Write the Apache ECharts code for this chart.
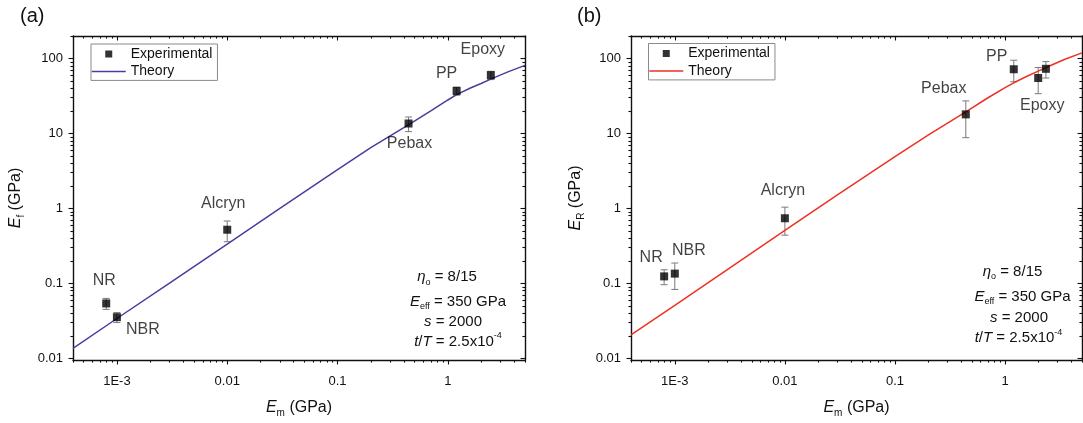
<!DOCTYPE html>
<html>
<head>
<meta charset="utf-8">
<script src="https://cdn.jsdelivr.net/npm/echarts@6.0.0/dist/echarts.min.js"></script>
<style>
  html, body { margin: 0; padding: 0; background: #fff; }
  #chart { width: 1083px; height: 423px; }
</style>
</head>
<body>
<div id="chart"></div>
<script>
// ---- Panel (a): E_f versus matrix modulus E_m ----
const materialsA = ['NR', 'NBR', 'Alcryn', 'Pebax', 'PP', 'Epoxy'];
const emA        = [8e-4, 1e-3, 0.01, 0.44, 1.2, 2.45];
const efA        = [0.054, 0.0354, 0.52, 13.6, 37, 60];
const efErrA     = [0.009, 0.0054, 0.16, 3.0, 4.6, 7.6];
const theoryEmA  = [4e-4, 1e-3, 3e-3, 0.01, 0.03, 0.1, 0.2, 0.45, 0.7, 1, 1.2, 1.6, 2, 2.5, 3.5, 5];
const theoryEfA  = [0.0136, 0.034, 0.101, 0.335, 1.0, 3.3, 6.5, 13.3, 20, 28, 33, 40.5, 46.5, 54, 66.5, 81];

// ---- Panel (b): E_R versus matrix modulus E_m ----
const materialsB = ['NR', 'NBR', 'Alcryn', 'Pebax', 'PP', 'Epoxy', 'Epoxy'];
const emB        = [8e-4, 1e-3, 0.01, 0.44, 1.2, 2.0, 2.35];
const erB        = [0.124, 0.135, 0.74, 18, 72, 55, 73];
const erErrB     = [0.028, 0.052, 0.30, 9.2, 23, 21, 18];
const theoryEmB  = [4e-4, 1e-3, 3e-3, 0.01, 0.03, 0.1, 0.2, 0.44, 0.7, 1, 1.2, 1.6, 2, 2.5, 3.5, 5];
const theoryErB  = [0.0205, 0.051, 0.153, 0.51, 1.52, 4.9, 9.5, 19.5, 30, 41, 47.5, 58.5, 68, 79, 98, 119];

// ---- Axis ticks ----
const xTickValues = [1e-3, 1e-2, 1e-1, 1];
const xTickLabels = ['1E-3', '0.01', '0.1', '1'];
const yTickValues = [0.01, 0.1, 1, 10, 100];
const yTickLabels = ['0.01', '0.1', '1', '10', '100'];

// ---- Styling ----
const FONT = "'Liberation Sans', Arial, sans-serif";
const FRAME = '#111';
const TEXT = '#111';
const ERR = '#7a7a7a';
const X_MIN = 4e-4, X_MAX = 5;
const Y_MIN = 0.0095, Y_MAX = 200;
const SQUARE = 'path://M0,0L10,0L10,10L0,10Z';

// where each material name sits relative to its marker
const labelOffsetA = { NR: [-2, -23], NBR: [26, 12], Alcryn: [-4, -26], Pebax: [1, 20], PP: [-10, -17], Epoxy: [-8, -26] };
const labelOffsetB = { NR: [-13, -19], NBR: [14, -23], Alcryn: [-2, -28], Pebax: [-22, -26], PP: [-17, -13], Epoxy: [4, 28] };

const panels = [
  { grid: { left: 73, top: 36, width: 452, height: 327.5 },
    lineColor: '#4b3c9e', yName: 'f', yNameGap: 47,
    names: materialsA, xs: emA, ys: efA, errs: efErrA, tx: theoryEmA, ty: theoryEfA,
    offsets: labelOffsetA, legendPos: { left: 91, top: 44 }, tag: '(a)', tagX: 20,
    notes: { xs: [447, 458, 453, 458], ys: [277, 301.5, 321.5, 341.5] } },
  { grid: { left: 631, top: 36, width: 451, height: 327.5 },
    lineColor: '#ee3124', yName: 'R', yNameGap: 45,
    names: materialsB, xs: emB, ys: erB, errs: erErrB, tx: theoryEmB, ty: theoryErB,
    offsets: labelOffsetB, legendPos: { left: 648.5, top: 43.5 }, tag: '(b)', tagX: 577,
    notes: { xs: [1012.5, 1022.5, 1019, 1018.5], ys: [271.5, 296.5, 317.5, 338] } }
];

function minorTicks(lo, hi) {
  const out = [];
  for (let k = -5; k <= 3; k++) {
    for (let m = 2; m <= 9; m++) {
      const v = m * Math.pow(10, k);
      if (v >= lo * 0.9999 && v <= hi * 1.0001) out.push(v);
    }
  }
  return out;
}
const xMinor = minorTicks(X_MIN, X_MAX);
const yMinor = minorTicks(Y_MIN, Y_MAX);

function lookup(values, labels, v) {
  const lv = Math.log10(v);
  const i = values.findIndex(t => Math.abs(Math.log10(t) - lv) < 1e-6);
  return i >= 0 ? labels[i] : '';
}

const subRich = {
  it: { fontStyle: 'italic', fontSize: 16, fontFamily: FONT, color: TEXT, lineHeight: 20 },
  sub: { fontSize: 10, fontFamily: FONT, color: TEXT, verticalAlign: 'bottom', lineHeight: 10 }
};

function makeAxes(dim, g, p) {
  const isX = dim === 'x';
  const lo = isX ? X_MIN : Y_MIN, hi = isX ? X_MAX : Y_MAX;
  const major = isX ? xTickValues : yTickValues;
  const minor = isX ? xMinor : yMinor;
  const mainPos = isX ? 'bottom' : 'left';
  const mirrorPos = isX ? 'top' : 'right';
  const base = {
    type: 'log', logBase: 10, gridIndex: g, min: lo, max: hi, silent: true,
    splitLine: { show: false }, axisLabel: { show: false },
    axisLine: { show: false }, axisTick: { show: false }
  };
  const line = { show: true, lineStyle: { color: FRAME, width: 1.4 } };
  const tick = (inside, len, vals) => ({ show: true, inside, length: len, customValues: vals,
                                         lineStyle: { color: FRAME, width: 1.1 } });
  const main = Object.assign({}, base, {
    position: mainPos,
    axisLine: line,
    axisTick: tick(false, 4.5, major),
    axisLabel: {
      show: true, customValues: major, fontSize: 13, color: TEXT, fontFamily: FONT,
      margin: isX ? 15 : 10,
      formatter: v => isX ? lookup(xTickValues, xTickLabels, v) : lookup(yTickValues, yTickLabels, v)
    },
    name: isX ? '{it|E}{sub|m} (GPa)' : '{it|E}{sub|' + p.yName + '} (GPa)',
    nameLocation: 'middle',
    nameGap: isX ? 38 : p.yNameGap,
    nameTextStyle: { fontSize: 16, fontFamily: FONT, color: TEXT, lineHeight: 20, rich: subRich }
  });
  return [
    main,
    Object.assign({}, base, { position: mainPos, axisTick: tick(false, 2.6, minor) }),
    Object.assign({}, base, { position: mirrorPos, axisLine: line, axisTick: tick(true, 4.5, major) }),
    Object.assign({}, base, { position: mirrorPos, axisTick: tick(true, 2.6, minor) })
  ];
}

const option = {
  animation: false,
  backgroundColor: '#fff',
  grid: [], xAxis: [], yAxis: [], series: [], legend: [], graphic: []
};

const noteStyle = { fontSize: 15, fontFamily: FONT, fill: TEXT, align: 'center', verticalAlign: 'middle', lineHeight: 20 };
const noteRich = {
  it: { fontStyle: 'italic', fontSize: 15, fontFamily: FONT, lineHeight: 20 },
  sub: { fontSize: 9, fontFamily: FONT, verticalAlign: 'bottom', lineHeight: 10 },
  sup: { fontSize: 9, fontFamily: FONT, verticalAlign: 'top', lineHeight: 10 }
};
const noteLines = [
  '{it|η}{sub|o} = 8/15',
  '{it|E}{sub|eff} = 350 GPa',
  '{it|s} = 2000',
  '{it|t}/{it|T} = 2.5x10{sup|-4}'
];

panels.forEach((p, g) => {
  option.grid.push(Object.assign({ containLabel: false }, p.grid));
  makeAxes('x', g, p).forEach(a => option.xAxis.push(a));
  makeAxes('y', g, p).forEach(a => option.yAxis.push(a));
  const ax = g * 4;

  // error bars
  option.series.push({
    type: 'custom', xAxisIndex: ax, yAxisIndex: ax, z: 2, silent: true,
    data: p.xs.map((x, i) => [x, p.ys[i], p.errs[i]]),
    encode: { x: 0, y: 1 },
    renderItem: (params, api) => {
      const x = api.value(0), y = api.value(1), e = api.value(2);
      const top = api.coord([x, y + e]);
      const bot = api.coord([x, y - e]);
      const w = 3.5;
      const st = { stroke: ERR, lineWidth: 1 };
      return {
        type: 'group',
        children: [
          { type: 'line', shape: { x1: top[0], y1: top[1], x2: bot[0], y2: bot[1] }, style: st },
          { type: 'line', shape: { x1: top[0] - w, y1: top[1], x2: top[0] + w, y2: top[1] }, style: st },
          { type: 'line', shape: { x1: bot[0] - w, y1: bot[1], x2: bot[0] + w, y2: bot[1] }, style: st }
        ]
      };
    }
  });

  // theory curve
  option.series.push({
    name: 'Theory', type: 'line', xAxisIndex: ax, yAxisIndex: ax, z: 3,
    symbol: 'none', smooth: false, silent: true,
    lineStyle: { color: p.lineColor, width: 1.5 },
    itemStyle: { color: p.lineColor },
    data: p.tx.map((x, i) => [x, p.ty[i]])
  });

  // experimental points
  const labelled = {};
  option.series.push({
    name: 'Experimental', type: 'scatter', xAxisIndex: ax, yAxisIndex: ax, z: 5,
    symbol: 'rect', symbolSize: 8, silent: true,
    itemStyle: { color: '#000' },
    label: { show: true, position: 'inside', formatter: '{b}', fontSize: 16, fontFamily: FONT, color: TEXT },
    data: p.names.map((n, i) => {
      const first = !labelled[n];
      labelled[n] = true;
      return { name: n, value: [p.xs[i], p.ys[i]],
               label: first ? { show: true, offset: p.offsets[n] } : { show: false } };
    })
  });

  option.legend.push({
    orient: 'vertical', left: p.legendPos.left, top: p.legendPos.top,
    itemWidth: 34, itemHeight: 7, itemGap: 3.4, padding: [3, 5, 2, 0],
    borderColor: '#8a8a8a', borderWidth: 1, backgroundColor: '#fff',
    selectedMode: false, symbolKeepAspect: true,
    textStyle: { fontSize: 14, fontFamily: FONT, color: TEXT },
    data: [
      { name: 'Experimental', icon: SQUARE, itemStyle: { color: '#000' } },
      { name: 'Theory', lineStyle: { color: p.lineColor, width: 1.5 },
        itemStyle: { color: 'rgba(0,0,0,0)', borderWidth: 0, opacity: 0 } }
    ]
  });

  option.graphic.push({
    type: 'text', x: p.tagX, y: 16, silent: true,
    style: { text: p.tag, fontSize: 20, fontFamily: FONT, fill: TEXT, verticalAlign: 'middle' }
  });
  noteLines.forEach((t, i) => {
    option.graphic.push({
      type: 'text', x: p.notes.xs[i], y: p.notes.ys[i], silent: true, z: 10,
      style: Object.assign({ text: t, rich: noteRich }, noteStyle)
    });
  });
});

const chart = echarts.init(document.getElementById('chart'), null, { renderer: 'canvas' });
chart.setOption(option);
</script>
</body>
</html>
